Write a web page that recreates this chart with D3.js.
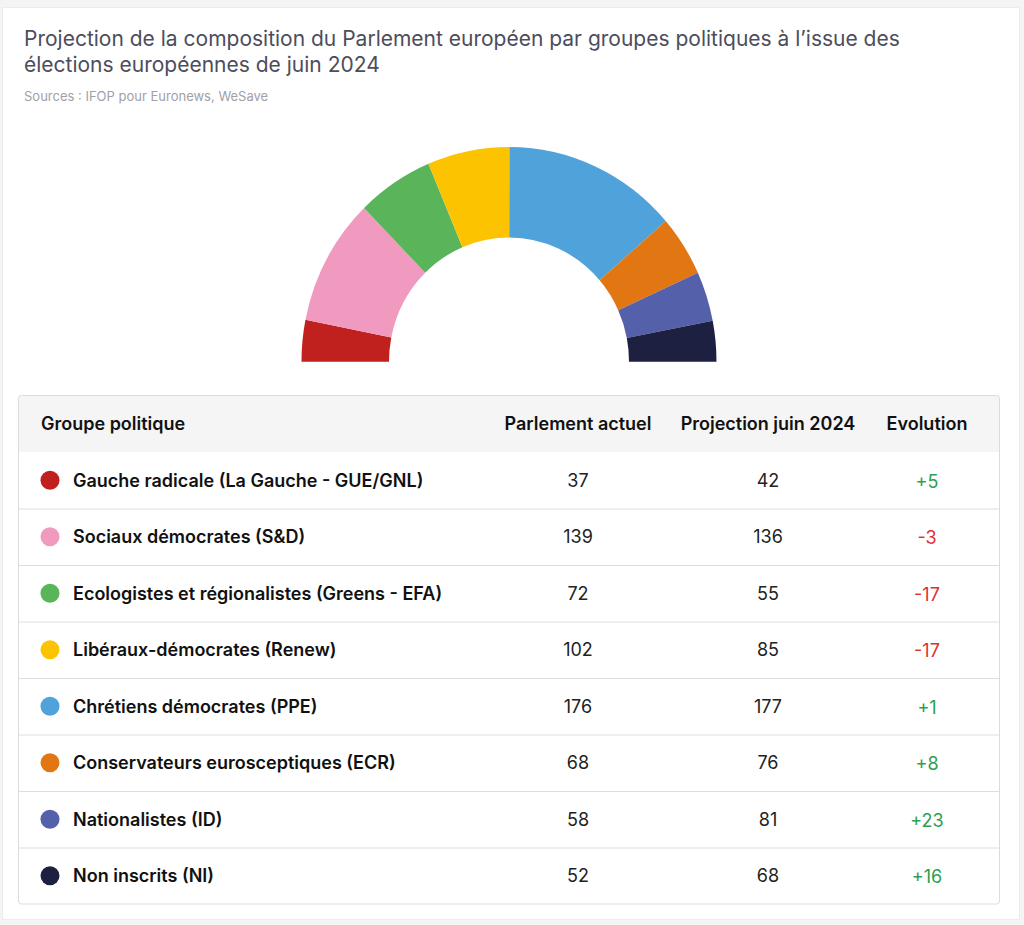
<!DOCTYPE html>
<html>
<head>
<meta charset="utf-8">
<script src="https://cdn.jsdelivr.net/npm/d3@7"></script>
<style>
  body { margin: 0; background: #f4f4f4; }
  svg { display: block; font-family: Inter, "Noto Sans", sans-serif; }
</style>
</head>
<body>
<svg id="chart"></svg>
<script>
const width = 1024, height = 925;

// data
const groups = [
  "Gauche radicale (La Gauche - GUE/GNL)",
  "Sociaux démocrates (S&D)",
  "Ecologistes et régionalistes (Greens - EFA)",
  "Libéraux-démocrates (Renew)",
  "Chrétiens démocrates (PPE)",
  "Conservateurs eurosceptiques (ECR)",
  "Nationalistes (ID)",
  "Non inscrits (NI)"
];
const actuel = [37, 139, 72, 102, 176, 68, 58, 52];
const projection = [42, 136, 55, 85, 177, 76, 81, 68];
// seat shares as drawn in the hemicycle
const hemicycle = [45, 138, 86, 92, 196, 66, 54, 44];
const colors = ["#c0201e", "#f09abf", "#5ab55a", "#fcc400", "#4fa3da", "#e27612", "#5560aa", "#1e2042"];
const headers = ["Groupe politique", "Parlement actuel", "Projection juin 2024", "Evolution"];

const svg = d3.select("#chart").attr("width", width).attr("height", height);

// card
svg.append("rect")
    .attr("x", 2.5).attr("y", 7.5)
    .attr("width", 1017).attr("height", 912)
    .attr("fill", "#fff")
    .attr("stroke", "#ececec");

// title
const title = svg.append("text")
    .attr("x", 24).attr("y", 46)
    .attr("font-size", 21)
    .attr("fill", "#4d4d5c");
title.append("tspan").attr("x", 24).text("Projection de la composition du Parlement européen par groupes politiques à l’issue des");
title.append("tspan").attr("x", 24).attr("dy", 26).text("élections européennes de juin 2024");

svg.append("text")
    .attr("x", 24).attr("y", 101)
    .attr("font-size", 13)
    .attr("fill", "#a0a0a8")
    .text("Sources : IFOP pour Euronews, WeSave");

// hemicycle
const pie = d3.pie().sort(null).value(d => d)
    .startAngle(-Math.PI / 2).endAngle(Math.PI / 2);
const arc = d3.arc().innerRadius(120).outerRadius(207.5);

const hemi = svg.append("g")
    .attr("transform", "translate(509,361.7) scale(1,1.035)");
hemi.selectAll("path")
    .data(pie(hemicycle))
    .enter().append("path")
    .attr("d", arc)
    .attr("fill", (d, i) => colors[i]);

// table
const tableX = 18.5, tableW = 981;
svg.append("rect")
    .attr("x", tableX).attr("y", 395.5)
    .attr("width", tableW).attr("height", 56.5)
    .attr("fill", "#f5f5f5");

const y = d3.scaleBand().domain(groups).range([452, 904]);
const colX = [41, 578, 768, 927];

svg.selectAll("text.head")
    .data(headers)
    .enter().append("text")
    .attr("class", "head")
    .attr("x", (d, i) => colX[i])
    .attr("y", 424)
    .attr("dy", "0.35em")
    .attr("text-anchor", (d, i) => i === 0 ? "start" : "middle")
    .attr("font-size", 18)
    .attr("font-weight", 600)
    .attr("fill", "#111")
    .text(d => d);

const rows = svg.selectAll("g.row")
    .data(groups)
    .enter().append("g")
    .attr("class", "row")
    .attr("transform", d => `translate(0,${y(d)})`);

rows.filter((d, i) => i > 0).append("line")
    .attr("x1", tableX).attr("x2", tableX + tableW)
    .attr("y1", 0.5).attr("y2", 0.5)
    .attr("stroke", "#dedede");

rows.append("circle")
    .attr("cx", 50).attr("cy", y.bandwidth() / 2)
    .attr("r", 9.5)
    .attr("fill", (d, i) => colors[i]);

rows.append("text")
    .attr("x", 73).attr("y", y.bandwidth() / 2)
    .attr("dy", "0.35em")
    .attr("font-size", 18)
    .attr("font-weight", 600)
    .attr("fill", "#111")
    .text(d => d);

rows.append("text")
    .attr("x", colX[1]).attr("y", y.bandwidth() / 2)
    .attr("dy", "0.35em")
    .attr("text-anchor", "middle")
    .attr("font-size", 18)
    .attr("fill", "#222")
    .text((d, i) => actuel[i]);

rows.append("text")
    .attr("x", colX[2]).attr("y", y.bandwidth() / 2)
    .attr("dy", "0.35em")
    .attr("text-anchor", "middle")
    .attr("font-size", 18)
    .attr("fill", "#222")
    .text((d, i) => projection[i]);

rows.append("text")
    .attr("x", colX[3]).attr("y", y.bandwidth() / 2 + 1)
    .attr("dy", "0.35em")
    .attr("text-anchor", "middle")
    .attr("font-size", 18)
    .attr("fill", (d, i) => projection[i] - actuel[i] >= 0 ? "#2e9e4f" : "#e0302f")
    .text((d, i) => {
        const diff = projection[i] - actuel[i];
        return diff > 0 ? "+" + diff : String(diff);
    });

// table border
svg.append("rect")
    .attr("x", tableX).attr("y", 395.5)
    .attr("width", tableW).attr("height", 508.5)
    .attr("rx", 3)
    .attr("fill", "none")
    .attr("stroke", "#dcdcdc");
</script>
</body>
</html>
